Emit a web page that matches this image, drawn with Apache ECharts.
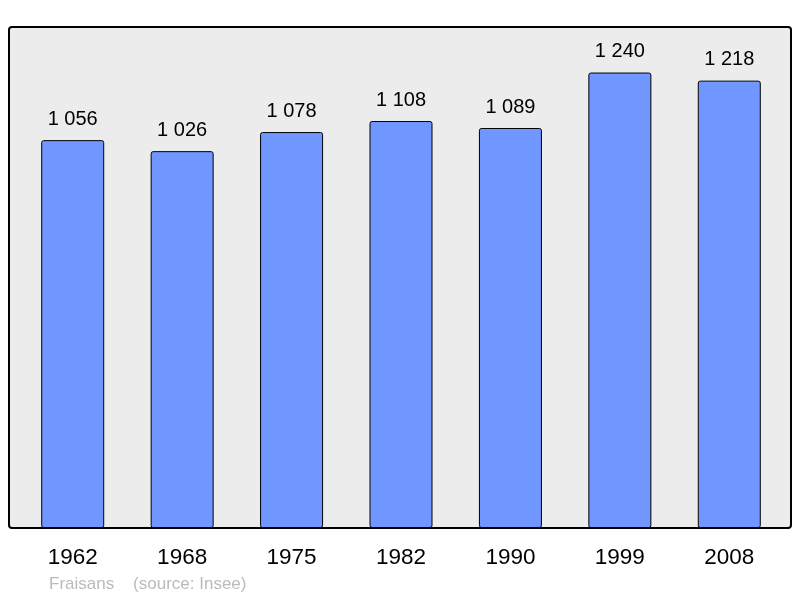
<!DOCTYPE html>
<html><head><meta charset="utf-8">
<script src="https://cdn.jsdelivr.net/npm/echarts@6/dist/echarts.min.js"></script>
<style>html,body{margin:0;padding:0;background:#fff}#c{width:800px;height:598px}</style>
</head><body><div id="c"></div>
<script>
const years = ['1962','1968','1975','1982','1990','1999','2008'];
const population = [1056, 1026, 1078, 1108, 1089, 1240, 1218];
const commune = 'Fraisans';
const source = '(source: Insee)';

const chart = echarts.init(document.getElementById('c'));
const fmt = v => String(v).replace(/\B(?=(\d{3})+(?!\d))/g, ' ');
chart.setOption({
  animation: false,
  backgroundColor: '#ffffff',
  grid: {left: 18, right: 16, top: 27, bottom: 70},
  graphic: [
    {type: 'rect', z: -10, shape: {x: 9, y: 27, width: 782, height: 501, r: 3},
     style: {fill: '#ececec', stroke: '#000', lineWidth: 2}},
    {type: 'text', left: 49, top: 576, style: {text: commune + '    ' + source, fill: '#bbbbbb', font: '17px "Liberation Sans", Arial, sans-serif'}}
  ],
  xAxis: {type: 'category', data: years,
    axisLine: {show: false}, axisTick: {show: false},
    axisLabel: {margin: 18, fontSize: 22.5, color: '#000', fontFamily: '"Liberation Sans", Arial, sans-serif'}},
  yAxis: {type: 'value', min: 0, max: 1364, show: false, splitLine: {show: false}},
  series: [{
    type: 'bar', data: population, barWidth: 63,
    itemStyle: {color: '#7096ff', borderColor: '#000', borderWidth: 1, borderRadius: 2},
    label: {show: true, position: 'top', distance: 11, fontSize: 20, color: '#000',
      fontFamily: '"Liberation Sans", Arial, sans-serif', formatter: p => fmt(p.value)}
  }]
});
</script></body></html>
